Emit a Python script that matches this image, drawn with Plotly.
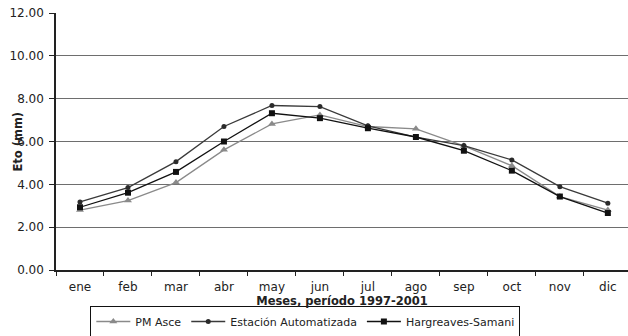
import plotly.graph_objects as go

meses = ["ene", "feb", "mar", "abr", "may", "jun", "jul", "ago", "sep", "oct", "nov", "dic"]
pm_asce = [2.80, 3.24, 4.08, 5.61, 6.82, 7.24, 6.70, 6.59, 5.80, 4.87, 3.43, 2.80]
estacion = [3.18, 3.85, 5.06, 6.70, 7.68, 7.63, 6.73, 6.20, 5.81, 5.14, 3.89, 3.12]
hargreaves = [2.93, 3.61, 4.58, 6.00, 7.32, 7.09, 6.62, 6.21, 5.57, 4.64, 3.43, 2.66]
y_ticks = [0, 2, 4, 6, 8, 10, 12]

FONT = "DejaVu Sans, Verdana, sans-serif"

fig = go.Figure()
fig.add_trace(go.Scatter(x=meses, y=pm_asce, name="PM Asce", mode="lines+markers",
                         line=dict(color="#8a8a8a", width=1.3),
                         marker=dict(symbol="triangle-up", size=7, color="#8a8a8a")))
fig.add_trace(go.Scatter(x=meses, y=estacion, name="Estación Automatizada", mode="lines+markers",
                         line=dict(color="#3a3a3a", width=1.3),
                         marker=dict(symbol="circle", size=5, color="#2a2a2a")))
fig.add_trace(go.Scatter(x=meses, y=hargreaves, name="Hargreaves-Samani", mode="lines+markers",
                         line=dict(color="#111111", width=1.3),
                         marker=dict(symbol="square", size=6, color="#111111")))

fig.update_layout(
    width=628, height=336,
    margin=dict(l=56, r=0, t=13, b=66, autoexpand=False),
    paper_bgcolor="white", plot_bgcolor="white",
    font=dict(family=FONT, size=12, color="#222222"),
    showlegend=True,
    legend=dict(orientation="h", x=0.06, y=-0.14, xanchor="left", yanchor="top",
                bordercolor="#111111", borderwidth=1, bgcolor="white",
                font=dict(size=11), itemwidth=34, tracegroupgap=0),
    annotations=[dict(text="<b>Eto (mm)</b>", xref="paper", yref="paper",
                      x=-0.068, y=0.5, xanchor="center", yanchor="middle",
                      textangle=-90, showarrow=False, font=dict(size=11.5))],
)
fig.update_xaxes(
    type="category", range=[-0.5, 11.42], automargin=False,
    showline=True, linecolor="#222222", linewidth=1.5,
    ticks="outside", tickson="boundaries", ticklen=4, tickcolor="#222222",
    showgrid=False, tickfont=dict(size=12), ticklabelstandoff=5,
    title=dict(text="<b>Meses, período 1997-2001</b>", font=dict(size=11.5), standoff=1),
)
fig.update_yaxes(
    range=[0, 12], tickvals=y_ticks, tickformat=".2f", automargin=False,
    showline=True, linecolor="#222222", linewidth=1.5,
    ticks="outside", ticklen=5, tickcolor="#222222",
    showgrid=True, gridcolor="#6e6e6e", gridwidth=1.3,
    zeroline=False, tickfont=dict(size=12), ticklabelstandoff=3,
)

fig.write_html(
    "out.html",
    config={"displayModeBar": False},
    post_script="document.body.style.margin='0';document.body.style.overflow='hidden';",
)
